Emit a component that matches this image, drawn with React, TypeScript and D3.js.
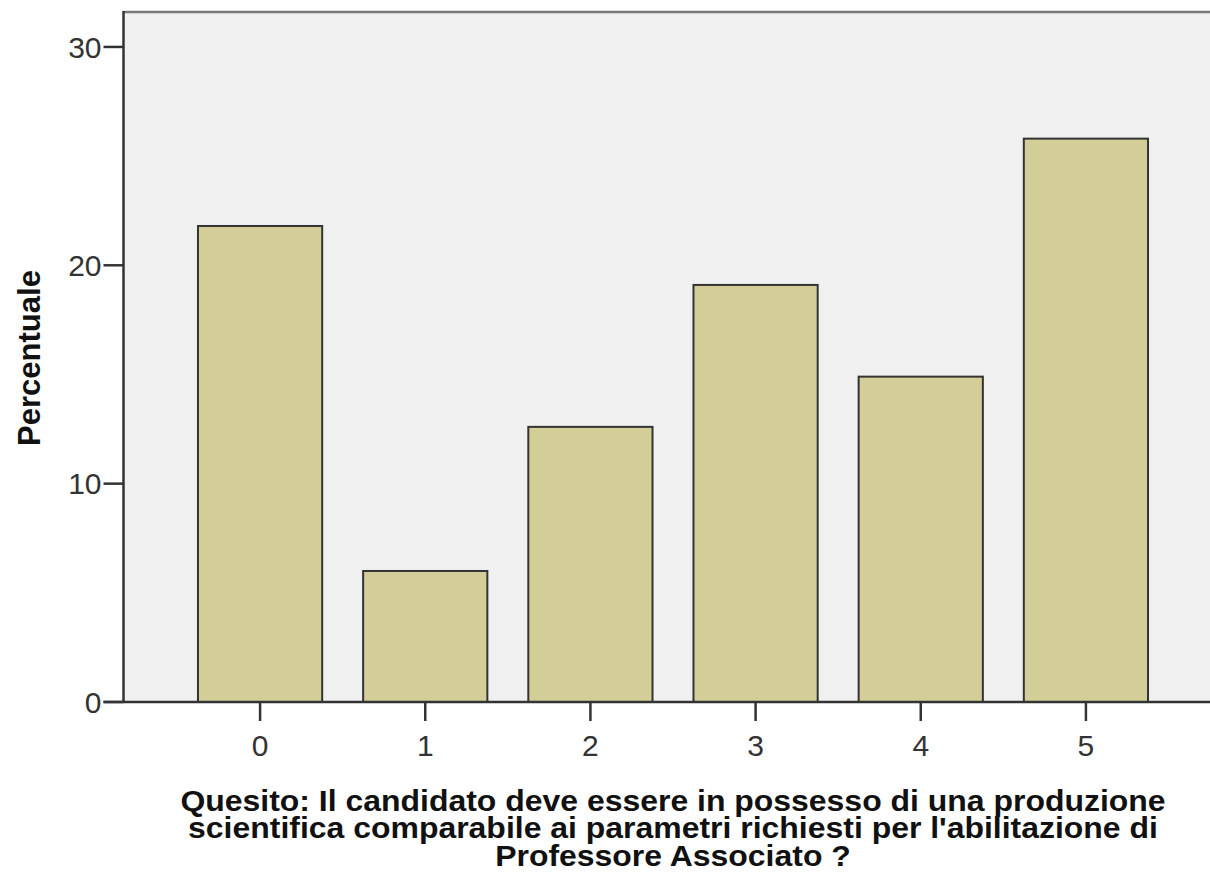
import React from "react";
import * as d3 from "d3";

const categories = ["0", "1", "2", "3", "4", "5"];
const percentages = [21.8, 6.0, 12.6, 19.1, 14.9, 25.8];
const yTicks = [0, 10, 20, 30];
const yLabel = "Percentuale";
const titleLines = [
  "Quesito: Il candidato deve essere in possesso di una produzione",
  "scientifica comparabile ai parametri richiesti per l'abilitazione di",
  "Professore Associato ?",
];

const W = 1210;
const H = 877;
const plotLeft = 123.5;
const plotTop = 12;
const plotBottom = 702;

export default function App() {
  const x = d3
    .scaleBand<string>()
    .domain(categories)
    .range([177.5, 1168.5])
    .paddingInner(0.248)
    .paddingOuter(0.124);
  const y = d3.scaleLinear().domain([0, 31.6]).range([plotBottom, plotTop]);

  return (
    <svg
      width={W}
      height={H}
      style={{ position: "absolute", left: 0, top: 0, background: "#fff" }}
      fontFamily="'Liberation Sans', Arial, sans-serif"
    >
      <rect x={plotLeft} y={plotTop} width={W - plotLeft + 5} height={plotBottom - plotTop} fill="#f0f0f0" />
      <line x1={plotLeft} x2={W} y1={plotTop} y2={plotTop} stroke="#777" strokeWidth={2.5} />
      {categories.map((c, i) => (
        <rect
          key={c}
          x={x(c)}
          y={y(percentages[i])}
          width={x.bandwidth()}
          height={plotBottom - y(percentages[i])}
          fill="#d3ce97"
          stroke="#333"
          strokeWidth={2}
        />
      ))}
      <line x1={plotLeft} x2={plotLeft} y1={plotTop - 1} y2={plotBottom} stroke="#333" strokeWidth={2.5} />
      <line x1={plotLeft - 20} x2={W} y1={plotBottom} y2={plotBottom} stroke="#333" strokeWidth={2.5} />
      {yTicks.map((t) => (
        <g key={t}>
          <line x1={plotLeft - 20} x2={plotLeft} y1={y(t)} y2={y(t)} stroke="#333" strokeWidth={2.5} />
          <text x={plotLeft - 22} y={y(t)} dy="0.36em" textAnchor="end" fontSize={30} fill="#333">
            {t}
          </text>
        </g>
      ))}
      {categories.map((c) => {
        const cx = (x(c) as number) + x.bandwidth() / 2;
        return (
          <g key={c}>
            <line x1={cx} x2={cx} y1={plotBottom} y2={plotBottom + 19} stroke="#333" strokeWidth={2.5} />
            <text x={cx} y={756} textAnchor="middle" fontSize={30} fill="#333">
              {c}
            </text>
          </g>
        );
      })}
      <text
        transform={`translate(40, 358) rotate(-90)`}
        textAnchor="middle"
        fontSize={31}
        fontWeight="bold"
        fill="#111"
      >
        {yLabel}
      </text>
      <text
        textAnchor="middle"
        fontSize={30}
        fontWeight="bold"
        fill="#111"
        transform={`translate(673, 0) scale(1.065, 1) translate(-673, 0)`}
      >
        {titleLines.map((l, i) => (
          <tspan key={i} x={673} y={811 + i * 27.5}>
            {l}
          </tspan>
        ))}
      </text>
    </svg>
  );
}
